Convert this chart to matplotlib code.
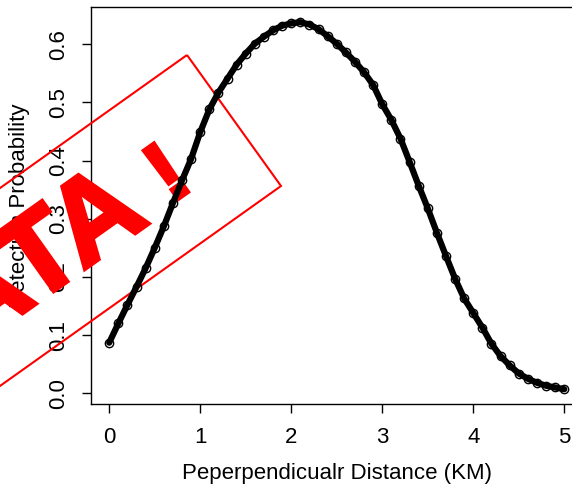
import numpy as np
import matplotlib.pyplot as plt
import matplotlib.patheffects as pe
from matplotlib.patches import Polygon

# values
distance = np.round(np.arange(0, 5.01, 0.1), 1)
detect_prob = [0.087, 0.120, 0.152, 0.183, 0.215, 0.250, 0.287, 0.327, 0.366, 0.403,
               0.449, 0.488, 0.517, 0.541, 0.565, 0.584, 0.601, 0.613, 0.624, 0.632,
               0.636, 0.638, 0.634, 0.626, 0.614, 0.601, 0.586, 0.570, 0.552, 0.530,
               0.497, 0.470, 0.438, 0.398, 0.357, 0.318, 0.276, 0.236, 0.197, 0.163,
               0.138, 0.113, 0.085, 0.064, 0.048, 0.034, 0.025, 0.018, 0.013, 0.010,
               0.007]
x_ticks = [0, 1, 2, 3, 4, 5]
y_ticks = [0.0, 0.1, 0.2, 0.3, 0.4, 0.5, 0.6]
stamp_word = "DATA"
stamp_mark = "!"

W, H = 572, 487


def fig_xy(px, py):
    # pixel position (from top left) -> figure fraction
    return px / W, 1 - py / H


def main():
    plt.rcParams['font.family'] = ['Liberation Sans', 'DejaVu Sans']
    fig = plt.figure(figsize=(W / 100, H / 100), dpi=100)
    ax = fig.add_axes([91 / W, 1 - 404 / H, (582.5 - 91) / W, (404 - 7.3) / H])

    ax.plot(distance, detect_prob, color='black', lw=4.5, solid_capstyle='round', zorder=5)
    ax.plot(distance, detect_prob, 'o', mfc='none', mec='black', ms=6, mew=1, zorder=5)

    x, y = fig_xy(337, 474)
    fig.text(x, y, 'Peperpendicualr Distance (KM)', fontsize=16, ha='center', va='center')
    x, y = fig_xy(20, 205.6)
    ax.text(x, y, 'Detection Probability', fontsize=16, ha='center', va='center',
            rotation=90, transform=fig.transFigure, clip_on=False, zorder=2.4)

    # red stamp, over the axis texts but under the points
    d = np.array([-0.815, 0.580])
    a = np.array([187, 55.0])
    b = np.array([281, 186.0])
    corners = [a, b, b + 700 * d, a + 700 * d]
    poly = Polygon([fig_xy(*c) for c in corners], closed=True, fill=False,
                   edgecolor='red', lw=1.5, transform=fig.transFigure, clip_on=False,
                   zorder=3)
    ax.add_patch(poly)
    stamp = dict(color='red', fontweight='bold', rotation=35.4, rotation_mode='anchor',
                 ha='right', va='baseline', transform=fig.transFigure, clip_on=False,
                 zorder=3,
                 path_effects=[pe.withStroke(linewidth=3, foreground='red',
                                             joinstyle='miter')])
    x, y = fig_xy(151, 222)
    ax.text(x, y, stamp_word, fontsize=84, **stamp)
    x, y = fig_xy(195, 187)
    ax.text(x, y, stamp_mark, fontsize=62, **stamp)

    ax.set_xlim(-0.2, 5.2)
    ax.set_ylim(-0.0184, 0.6636)
    ax.set_xticks(x_ticks)
    ax.set_yticks(y_ticks)
    ax.set_xticklabels([str(t) for t in x_ticks])
    ax.set_yticklabels(['%.1f' % t for t in y_ticks], rotation=90, va='center')
    ax.tick_params(direction='out', length=6.5, width=1, labelsize=16)
    ax.tick_params(axis='x', pad=10)
    ax.tick_params(axis='y', pad=9)
    for s in ax.spines.values():
        s.set_linewidth(1)

    fig.savefig('out.png', dpi=100)


if __name__ == '__main__':
    main()
